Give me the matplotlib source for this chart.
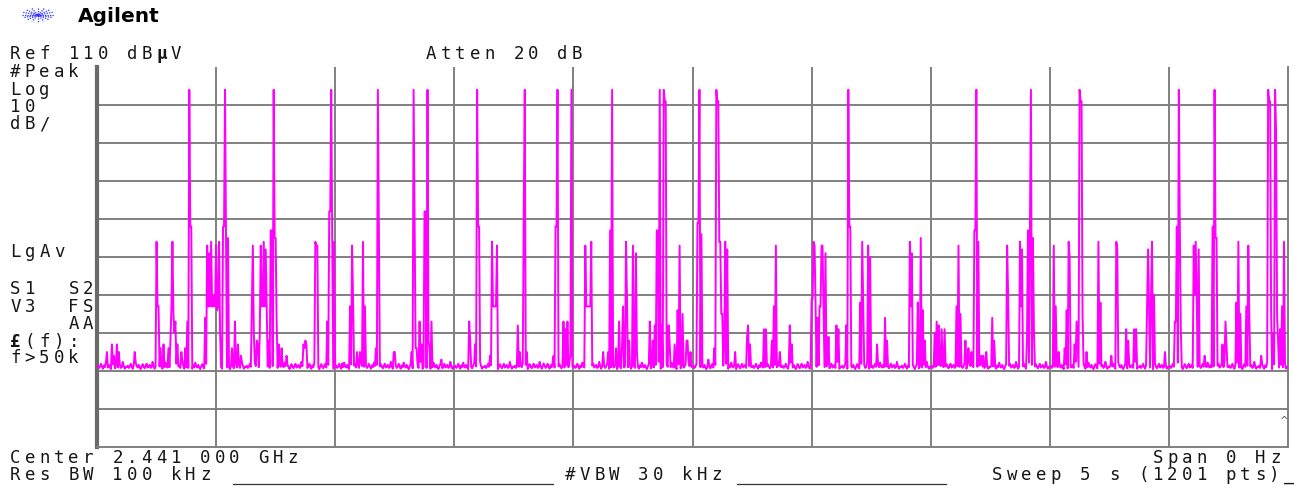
import matplotlib
matplotlib.use("Agg")
import matplotlib.pyplot as plt
import numpy as np

# sweep settings
n_pts = 1201
ref_db = 110
db_per_div = 10

floor_db = [31.0, 31.4, 30.8, 31.2, 31.9, 31.1, 30.6, 31.5, 31.0, 32.2,
            31.3, 30.9, 31.6, 31.0, 30.5, 31.2, 31.8, 31.1, 30.7, 31.4,
            31.9, 30.9, 31.2, 31.6, 30.8, 31.0, 32.4, 31.3, 30.6, 31.1]

# bursts: sweep point index and level (dBuV)
spike_idx = [10, 15, 17, 20, 22, 38,
             60, 61, 62, 64, 67,
             72, 74, 75, 76, 77, 78, 79, 81, 85, 89,
             91, 93, 94, 95,
             109, 111, 112, 113, 114, 115, 116, 117, 118, 119, 120, 121, 122, 123, 124,
             127, 128, 129, 130, 132,
             136, 139, 142, 145,
             156, 157, 158, 161, 162,
             164, 165, 166, 167, 168, 169, 170, 171, 173,
             175, 176, 178, 179, 180, 181, 183, 186, 191,
             208, 209, 210, 211,
             220, 221, 222,
             232, 234, 235, 236, 237, 239,
             247,
             255, 257, 258, 262, 265, 268, 270,
             281, 283, 284,
             299, 300,
             317, 319, 320, 321, 322, 325, 327,
             330, 331, 333, 334, 335, 337,
             347,
             375, 376, 381, 383, 384, 385,
             396, 398, 399, 400, 401, 402, 403,
             424, 426, 430, 431, 433,
             450, 460, 462, 463, 464,
             470, 472, 474, 477, 478,
             492, 493, 494, 495, 496, 497, 498,
             510, 515, 517, 519,
             523, 526, 529, 530, 533, 534, 536, 540, 543, 544,
             557, 560, 562, 564, 565, 567, 569, 571, 572, 573, 576, 577,
             582, 585, 587, 590, 594, 595, 598,
             605, 606, 607, 609, 616,
             622, 624, 625, 626, 627, 628, 629, 630, 632, 633, 635,
             643, 655, 656, 658,
             672, 674, 680, 682, 684, 688,
             698, 700,
             720, 721, 722, 723, 724, 726, 728, 729, 730, 731, 732, 734, 737,
             745, 747,
             755, 757, 758, 759,
             769, 771, 772, 777, 779, 786, 794, 796,
             819, 820, 821, 827, 830, 832, 834,
             844, 846, 848, 851, 854,
             866, 868, 870, 875, 878, 881,
             884, 885, 886, 888, 891, 893, 896,
             902, 904,
             917, 918, 930, 931, 932,
             937, 938, 940, 941, 943, 944,
             964, 966, 969,
             975, 977, 979, 980, 985, 987, 988,
             990, 991, 992, 993, 997,
             1009, 1011, 1022, 1027, 1028,
             1037, 1039, 1045, 1047,
             1058, 1059, 1060, 1062, 1063, 1065, 1076,
             1086, 1087, 1088, 1090, 1091, 1092,
             1105, 1106, 1107, 1108, 1110, 1116,
             1124, 1126, 1127, 1128,
             1134, 1137, 1138,
             1148, 1150, 1152, 1158, 1160, 1161,
             1173, 1180, 1181, 1182, 1183, 1185, 1187, 1188, 1189, 1190, 1192, 1194, 1196, 1197]
spike_db = [35, 37, 34, 37, 35, 35,
            64, 47, 47, 36, 37,
            36, 38, 47, 64, 45, 40, 43, 37, 35, 36,
            43, 104, 68, 68,
            44, 63, 47, 61, 47, 64, 47, 47, 50, 47, 63, 46, 47, 64, 40,
            68, 68, 104, 65, 65,
            36, 43, 37, 34,
            47, 63, 40, 38, 37,
            40, 63, 47, 47, 64, 47, 62, 47, 38,
            67, 67, 104, 65, 65, 43, 37, 36, 34,
            37, 36, 38, 37,
            64, 63, 63,
            43, 72, 72, 104, 65, 64,
            32,
            47, 63, 49, 35, 35, 64, 47,
            36, 104, 69,
            35, 35,
            35, 104, 70, 36, 36, 43, 37,
            72, 72, 104, 38, 36, 43,
            33,
            43, 38, 37, 104, 68, 68,
            34, 64, 47, 47, 47, 47, 63,
            42, 35, 73, 104, 35,
            32, 34, 68, 68, 104,
            43, 41, 43, 34, 104,
            63, 47, 47, 47, 47, 47, 64,
            35, 35, 67, 104,
            36, 43, 37, 47, 64, 49, 38, 63, 61, 35,
            43, 38, 42, 67, 67, 104, 42, 104, 101, 101, 42, 37,
            37, 46, 63, 45, 38, 38, 35,
            69, 69, 104, 66, 33,
            36, 104, 101, 101, 64, 64, 45, 45, 37, 64, 62,
            35, 39, 42, 37,
            41, 41, 38, 47, 63, 35,
            42, 37,
            49, 49, 64, 63, 47, 44, 47, 47, 63, 63, 47, 61, 39,
            42, 41,
            42, 104, 68, 68,
            48, 64, 47, 63, 60, 37, 44, 38,
            64, 47, 61, 48, 65, 46, 38,
            40, 43, 42, 41, 41,
            47, 63, 45, 38, 36, 35,
            67, 67, 104, 64, 34, 34, 35,
            44, 38,
            63, 50, 64, 47, 62,
            38, 67, 67, 104, 65, 41,
            63, 47, 35,
            36, 46, 64, 60, 37, 43, 37,
            104, 101, 101, 45, 35,
            64, 48, 34, 64, 62,
            41, 38, 41, 41,
            46, 62, 47, 50, 64, 50, 35,
            43, 43, 68, 104, 68, 41,
            63, 50, 64, 50, 62, 34,
            68, 104, 65, 65,
            37, 43, 37,
            48, 64, 45, 47, 63, 45,
            34, 104, 101, 101, 45, 40, 104, 93, 45, 38, 41, 47, 64, 32]

# screen annotations: (text, left x px, baseline y px)
labels = [("Ref 110 dBµV", 8, 59), ("Atten 20 dB", 424, 59),
          ("#Peak", 8, 77), ("Log", 8, 95), ("10", 8, 112), ("dB/", 8, 129),
          ("LgAv", 8, 257), ("S1  S2", 8, 294), ("V3  FS", 8, 312),
          ("    AA", 8, 329), ("£(f):", 8, 347), ("f>50k", 8, 363),
          ("Center 2.441 000 GHz", 8, 463), ("Span 0 Hz", 1151, 463),
          ("Res BW 100 kHz", 8, 480), ("#VBW 30 kHz", 563, 480),
          ("Sweep 5 s (1201 pts)_", 990, 480)]
bold_chars = "µ£"

trace = np.resize(np.array(floor_db), n_pts)
for i, d in zip(spike_idx, spike_db):
    trace[i] = max(trace[i], d)

W, H = 1294, 490
fig = plt.figure(figsize=(W / 100, H / 100), dpi=100)
fig.patch.set_facecolor("white")

# main graticule
ax = fig.add_axes([97 / W, 1 - 447 / H, 1191 / W, 380 / H])
ax.plot(np.arange(n_pts), trace, color="#ff00ff", lw=1.4, zorder=3)
ax.set_xlim(0, n_pts - 1)
ax.set_ylim(ref_db - 10 * db_per_div, ref_db)
ax.set_xticks(np.linspace(0, n_pts - 1, 11)[1:-1])
ax.set_yticks(np.arange(ref_db - 9 * db_per_div, ref_db, db_per_div))
ax.grid(True, color="#808080", lw=1.4, zorder=1)
ax.tick_params(length=0, labelbottom=False, labelleft=False)
ax.spines["top"].set_visible(False)
for s in ("bottom", "right"):
    ax.spines[s].set_color("#808080")
    ax.spines[s].set_linewidth(1.4)
ax.spines["left"].set_color("#6a6a6a")
ax.spines["left"].set_linewidth(3)

# overlay in screen pixels for the text
ov = fig.add_axes([0, 0, 1, 1], facecolor="none")
ov.set_xlim(0, W)
ov.set_ylim(H, 0)
ov.axis("off")

pitch = 14.6
for s, x0, y0 in labels:
    for k, ch in enumerate(s):
        if ch == " ":
            continue
        ov.text(x0 + (k + 0.5) * pitch, y0, ch, ha="center", va="baseline",
                family="DejaVu Sans Mono", fontsize=12.5, color="#161616",
                fontweight="bold" if ch in bold_chars else "normal")

ov.plot([233, 553], [484, 484], color="#333333", lw=0.9)
ov.plot([737, 946], [484, 484], color="#333333", lw=0.9)
ov.text(1284, 421, "^", ha="center", va="center", family="DejaVu Sans Mono",
        fontsize=8, color="#555555")

# Agilent logo
ov.text(78, 22, "Agilent", ha="left", va="baseline", family="DejaVu Sans",
        fontweight="bold", fontsize=14.5, color="black")
for a in np.linspace(0, np.pi, 8, endpoint=False):
    ov.plot([38 - 16 * np.cos(a), 38 + 16 * np.cos(a)],
            [15 - 7 * np.sin(a), 15 + 7 * np.sin(a)],
            color="#2a2aff", lw=0.9, ls=(0, (1, 1)))

fig.savefig("out.png", dpi=100)
